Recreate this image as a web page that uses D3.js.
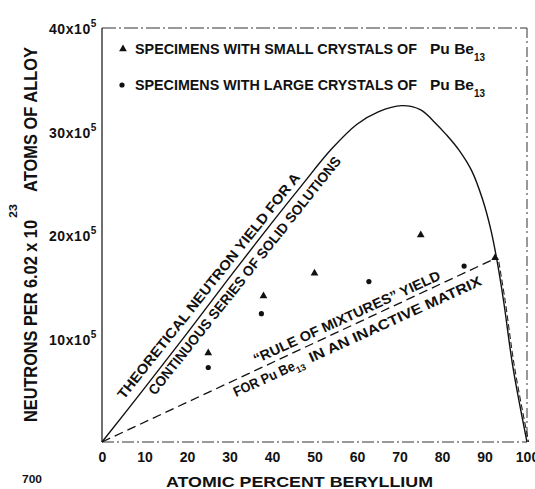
<!DOCTYPE html>
<html><head><meta charset="utf-8">
<script src="https://cdn.jsdelivr.net/npm/d3@7"></script>
<style>
body{margin:0;background:#fff}
svg{display:block}
text{font-family:"Liberation Sans",Arial,sans-serif;font-weight:bold;fill:#111}
</style>
</head><body>
<svg id="c" width="535" height="489"></svg>
<script>
// ---- data ----
const xTicks = [0,10,20,30,40,50,60,70,80,90,100];
const xTickLabels = ["0","10","20","30","40","50","60","70","80","90","100"];
const yTicks = [10,20,30,40];
const yTickLabels = ["10x10","20x10","30x10","40x10"];
const yTickExp = "5";
// theoretical yield curve (x = atomic % Be, y = 10^5 neutrons)
const theoX = [0,10,20,30,40,47,54,60,65,70.5,75,78,81,84,87,89.5,91.5,93,94.5,96.7,100];
const theoY = [0,5.2,10.5,15.9,21.2,24.8,28.3,30.7,31.9,32.5,32.1,31.0,29.7,28.2,26.2,23.5,20.5,17.4,13.6,7.2,0];
// rule of mixtures line
const mixX = [0,92.9];
const mixY = [0,17.8];
// specimens with small crystals (triangles)
const smallX = [25,38,50,75,92.5];
const smallY = [8.6,14.1,16.3,20.0,17.8];
// specimens with large crystals (dots)
const largeX = [25,37.5,62.8,85.2];
const largeY = [7.2,12.4,15.5,17.0];

// ---- chart ----
const svg = d3.select("#c");
const x = d3.scaleLinear().domain([0,100]).range([102,527]);
const y = d3.scaleLinear().domain([0,40]).range([442,28]);

// frame
const frame = svg.append("g").attr("stroke","#333").attr("stroke-width",1).attr("fill","none");
frame.append("line").attr("x1",x(0)).attr("x2",x(100)).attr("y1",y(40)).attr("y2",y(40)).attr("stroke-dasharray","14 3 2 3");
frame.append("line").attr("x1",x(100)).attr("x2",x(100)).attr("y1",y(40)).attr("y2",y(0)).attr("stroke-dasharray","10 3 2 4");
frame.append("line").attr("x1",x(0)).attr("x2",x(0)).attr("y1",y(40)).attr("y2",y(0)).attr("stroke","#222").attr("stroke-width",1.3);
frame.append("line").attr("x1",x(0)).attr("x2",x(100)).attr("y1",y(0)).attr("y2",y(0)).attr("stroke-dasharray","12 3 2 3");

// x axis
const gx = svg.append("g").attr("transform",`translate(0,${y(0)})`)
  .call(d3.axisBottom(x).tickValues(xTicks).tickSize(0).tickPadding(10)
    .tickFormat((d,i)=>xTickLabels[i]));
gx.select(".domain").remove();
gx.selectAll("text").attr("font-size",14).attr("font-family","Liberation Sans").attr("font-weight","bold").attr("fill","#111");

// y axis
const gy = svg.append("g").attr("transform",`translate(${x(0)},0)`)
  .call(d3.axisLeft(y).tickValues(yTicks).tickSize(0).tickPadding(5).tickFormat(""));
gy.select(".domain").remove();
gy.selectAll(".tick text").each(function(d,i){
  const t = d3.select(this).attr("font-size",14).attr("font-family","Liberation Sans").attr("font-weight","bold")
    .attr("fill","#111").attr("dy","0.4em").attr("letter-spacing",0.6);
  t.append("tspan").text(yTickLabels[i]);
  t.append("tspan").attr("font-size",10).attr("dy",-7).text(yTickExp);
});

// curves
const theoPts = theoX.map((v,i)=>[v,theoY[i]]);
svg.append("path").datum(theoPts)
  .attr("d", d3.line().x(d=>x(d[0])).y(d=>y(d[1])).curve(d3.curveCatmullRom.alpha(0.5)))
  .attr("fill","none").attr("stroke","#111").attr("stroke-width",1.4);
// doubled stroke along the steep end of the curve (beyond Pu Be13)
svg.append("path").datum(theoPts.filter(d=>d[0]>=mixX[1]))
  .attr("d", d3.line().x(d=>x(d[0])+1.6).y(d=>y(d[1])).curve(d3.curveCatmullRom.alpha(0.5)))
  .attr("fill","none").attr("stroke","#222").attr("stroke-width",1.1).attr("stroke-dasharray","6 3");
svg.append("path").datum(mixX.map((v,i)=>[v,mixY[i]]))
  .attr("d", d3.line().x(d=>x(d[0])).y(d=>y(d[1])))
  .attr("fill","none").attr("stroke","#111").attr("stroke-width",1.3).attr("stroke-dasharray","9 5");

// points
const tri = d3.symbol().type(d3.symbolTriangle).size(26);
svg.append("g").selectAll("path").data(smallX.map((v,i)=>[v,smallY[i]])).join("path")
  .attr("d",tri).attr("transform",d=>`translate(${x(d[0])},${y(d[1])})`).attr("fill","#111");
svg.append("g").selectAll("circle").data(largeX.map((v,i)=>[v,largeY[i]])).join("circle")
  .attr("cx",d=>x(d[0])).attr("cy",d=>y(d[1])).attr("r",2.6).attr("fill","#111");

// helpers
function txt(g,xp,yp,str,size,len){
  const t = g.append("text").attr("x",xp).attr("y",yp).attr("font-size",size).text(str);
  if(len) t.attr("textLength",len).attr("lengthAdjust","spacingAndGlyphs");
  return t;
}
function rot(xp,yp,ang){ return svg.append("g").attr("transform",`translate(${xp},${yp}) rotate(${ang})`); }

// legend
svg.append("path").attr("d",tri).attr("transform","translate(123,49)").attr("fill","#111");
svg.append("circle").attr("cx",122).attr("cy",85).attr("r",2.6).attr("fill","#111");
txt(svg,135,54,"SPECIMENS WITH SMALL CRYSTALS OF",15,282);
txt(svg,430,54,"Pu Be",15,44);
txt(svg,474,61,"13",10,11);
txt(svg,135,90,"SPECIMENS WITH LARGE CRYSTALS OF",15,282);
txt(svg,430,90,"Pu Be",15,44);
txt(svg,474,97,"13",10,11);

// curve labels
txt(rot(124,400,-51.5),0,0,"THEORETICAL  NEUTRON  YIELD  FOR  A",14,284);
txt(rot(155,396,-51.5),0,0,"CONTINUOUS  SERIES  OF  SOLID  SOLUTIONS",14,300);
txt(rot(256,364,-24.6),0,0,"\u201CRULE OF MIXTURES\u201D  YIELD",14,204);
const gf = rot(236,397,-24.5);
txt(gf,0,0,"FOR  Pu  Be",14,66);
txt(gf,66,4,"13",9,10);
txt(gf,83,0,"IN  AN  INACTIVE  MATRIX",14,188);

// axis titles
const gt = rot(37,422,-90);
txt(gt,0,0,"NEUTRONS  PER  6.02 x 10",19,202);
txt(gt,204,-20,"23",11,14);
txt(gt,230,0,"ATOMS  OF  ALLOY",19,145);
txt(svg,166,487,"ATOMIC  PERCENT  BERYLLIUM",15,267);
txt(svg,22,483,"700",11,20).attr("font-weight","normal");
</script>
</body></html>
